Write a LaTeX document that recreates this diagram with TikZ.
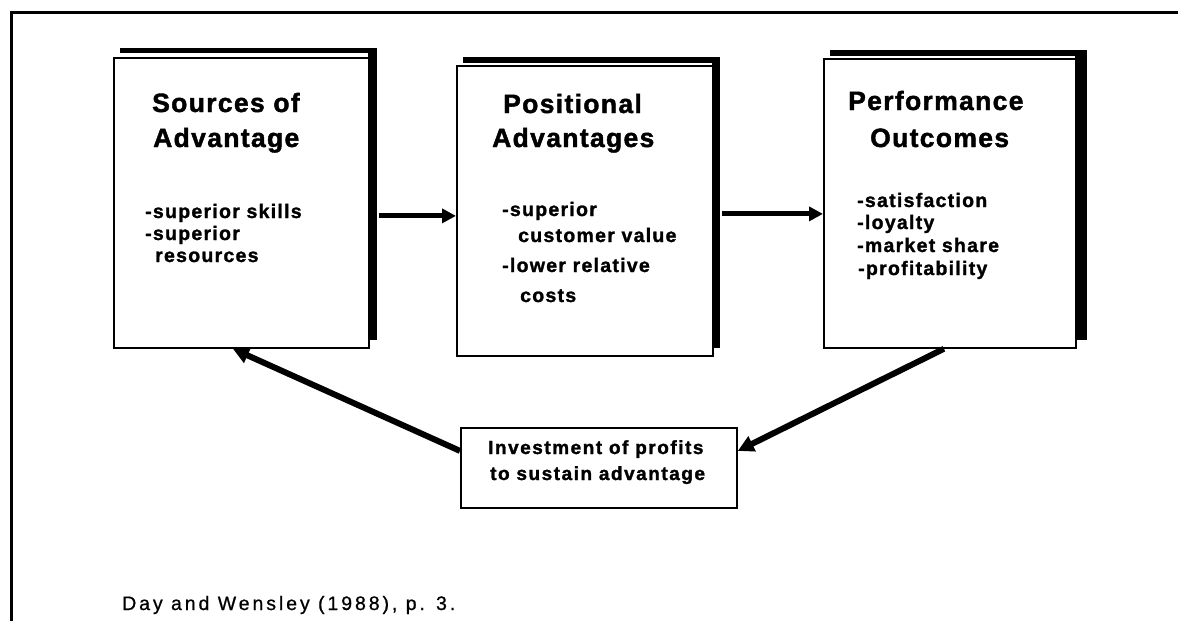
\documentclass[tikz,border=0pt]{standalone}
\usepackage{fontspec}
\setmainfont{Liberation Sans}
\newfontfamily\hdfont{Liberation Sans}[LetterSpace=5, BoldFeatures={FakeBold=1.6}]
\newfontfamily\itfont{Liberation Sans}[LetterSpace=6.5, BoldFeatures={FakeBold=1.4}]
\newfontfamily\invfont{Liberation Sans}[LetterSpace=8, BoldFeatures={FakeBold=1.6}]
\newfontfamily\capfont{Liberation Sans}[LetterSpace=15, FakeBold=0.8]
\usetikzlibrary{arrows.meta}
\begin{document}
\begin{tikzpicture}[x=1pt,y=-1pt,
  panel/.style={draw, line width=1.8pt, fill=white, inner sep=0pt, anchor=north west},
  head/.style={anchor=base west, inner sep=0pt, font=\hdfont\bfseries\fontsize{26.5}{30}\selectfont},
  item/.style={anchor=base west, inner sep=0pt, font=\itfont\bfseries\fontsize{19.5}{22}\selectfont},
  invtext/.style={anchor=base west, inner sep=0pt, font=\invfont\bfseries\fontsize{19}{22}\selectfont},
  flow/.style={line width=5pt, -{Triangle[length=14pt,width=14pt]}},
  feedback/.style={line width=6pt, -{Triangle[length=16pt,width=16pt]}}]
\useasboundingbox (0,0) rectangle (1178,621);
\fill[white] (0,0) rectangle (1178,621);

% page frame
\draw[line width=3pt] (1178,12) -- (11,12) -- (11,621);

% heavy offset edges behind the three main panels
\fill (120,48) rectangle (377,53);
\fill (368,48) rectangle (377,340);
\fill (463,57) rectangle (720,63);
\fill (712,57) rectangle (720,348);
\fill (830,50) rectangle (1087,56);
\fill (1075,50) rectangle (1087,340);

% panels
\node[panel, minimum width=255pt, minimum height=290pt] (src) at (113,57) {};
\node[panel, minimum width=256pt, minimum height=290pt] (pos) at (456,65) {};
\node[panel, minimum width=252pt, minimum height=289pt] (perf) at (823,58) {};
\node[panel, minimum width=276pt, minimum height=80pt] (inv) at (460,427) {};

% Sources of Advantage
\node[head] (srcA) at (152,112) {Sources of};
\node[head] (srcB) at (153,147) {Advantage};
\node[item] (srcC) at (145,218) {-superior skills};
\node[item] (srcD) at (145,240) {-superior};
\node[item] (srcE) at (155,262) {resources};

% Positional Advantages
\node[head] (posA) at (503,113) {Positional};
\node[head] (posB) at (492,147) {Advantages};
\node[item] (posC) at (502,216) {-superior};
\node[item] (posD) at (518,242) {customer value};
\node[item] (posE) at (502,272) {-lower relative};
\node[item] (posF) at (520,302) {costs};

% Performance Outcomes
\node[head] (perfA) at (848,110) {Performance};
\node[head] (perfB) at (870,147) {Outcomes};
\node[item] (perfC) at (857,207) {-satisfaction};
\node[item] (perfD) at (857,229) {-loyalty};
\node[item] (perfE) at (857,252) {-market share};
\node[item] (perfF) at (858,275) {-profitability};

% reinvestment
\node[invtext] (invA) at (488,454) {Investment of profits};
\node[invtext] (invB) at (490,480) {to sustain advantage};

% source note
\node[anchor=base west, inner sep=0pt, font=\capfont\fontsize{19.5}{22}\selectfont] (note) at (122,610) {Day and Wensley (1988), p. 3.};

% connectors
\draw[flow] ([xshift=9pt,yshift=-13pt]src.east) -- ([yshift=-5pt]pos.west);
\draw[flow] ([xshift=8pt,yshift=-3pt]pos.east) -- ([yshift=-10.5pt]perf.west);
\draw[feedback] ([xshift=-6pt]perf.south) -- ([yshift=17pt]inv.east);
\draw[feedback] ([yshift=17pt]inv.west) -- ([xshift=-8.5pt]src.south);
\end{tikzpicture}
\end{document}
